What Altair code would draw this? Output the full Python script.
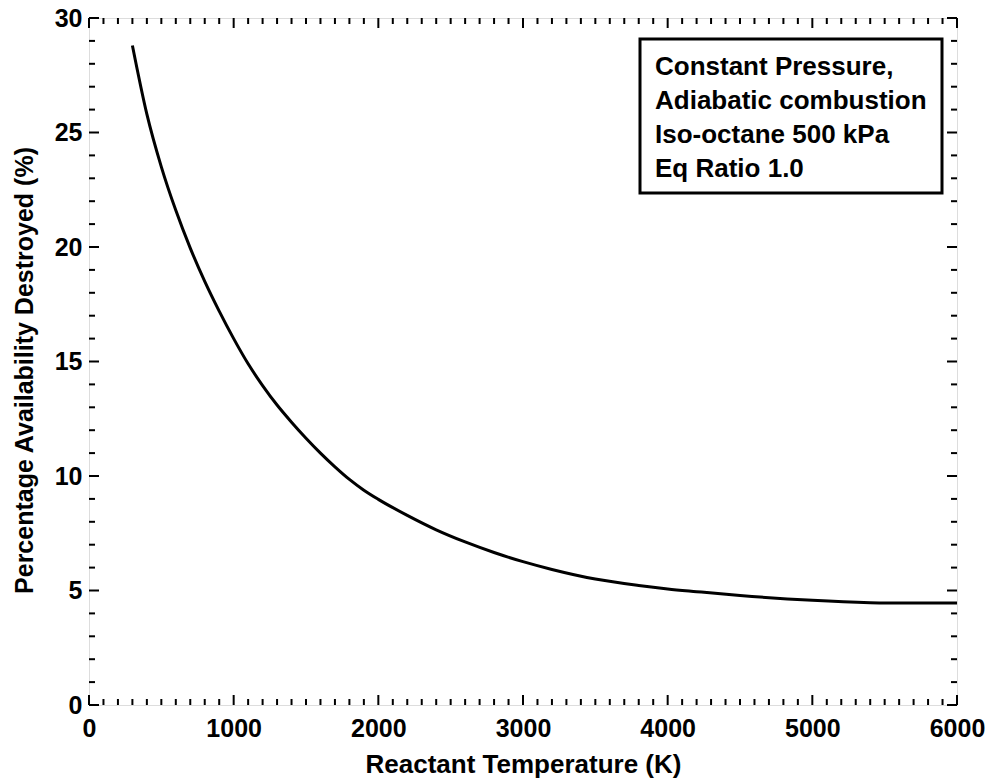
import altair as alt
import pandas as pd

# Curve
temp_k = [300, 400, 500, 600, 700, 800, 900, 1000, 1100, 1200, 1300, 1400, 1500,
          1600, 1700, 1800, 1900, 2000, 2200, 2400, 2600, 2800, 3000, 3200, 3500,
          3800, 4000, 4200, 4500, 5000, 5400, 5600, 6000]
pct_destroyed = [28.8, 25.8, 23.5, 21.6, 19.95, 18.5, 17.2, 16.0, 14.9, 13.95, 13.1,
                 12.35, 11.65, 11.0, 10.4, 9.85, 9.38, 8.98, 8.28, 7.65, 7.12, 6.66,
                 6.26, 5.92, 5.5, 5.22, 5.07, 4.95, 4.78, 4.57, 4.47, 4.45, 4.45]

x_major = [0, 1000, 2000, 3000, 4000, 5000, 6000]
x_minor = [v for v in range(0, 6001, 100) if v % 1000 != 0]
y_major = [0, 5, 10, 15, 20, 25, 30]
y_minor = [v for v in range(0, 31) if v % 5 != 0]

legend_lines = ["Constant Pressure,", "Adiabatic combustion",
                "Iso-octane 500 kPa", "Eq Ratio 1.0"]

FONT = "Liberation Sans"
W, H = 868, 687

curve = pd.DataFrame({"T": temp_k, "P": pct_destroyed})

xs = alt.Scale(domain=[0, 6000], nice=False, zero=False)
ys = alt.Scale(domain=[0, 30], nice=False, zero=False)

line = alt.Chart(curve).mark_line(color="black", strokeWidth=3, interpolate="monotone").encode(
    x=alt.X("T:Q", scale=xs,
            axis=alt.Axis(values=x_major, format="d", title="Reactant Temperature (K)",
                          grid=False, ticks=False, tickSize=0, domain=False, labelFont=FONT,
                          labelFontSize=25, labelFontWeight="bold", labelColor="black",
                          labelBaseline="alphabetic", labelPadding=31, labelFlush=False,
                          titleFont=FONT, titleFontSize=26, titleFontWeight="bold",
                          titleColor="black", titleBaseline="alphabetic", titleY=67,
                          titleX=W / 2, titleAlign="center")),
    y=alt.Y("P:Q", scale=ys,
            axis=alt.Axis(values=y_major, format="d",
                          title="Percentage Availability Destroyed (%)",
                          grid=False, ticks=False, tickSize=0, domain=False, labelFont=FONT,
                          labelFontSize=25, labelFontWeight="bold", labelColor="black",
                          labelPadding=7, labelFlush=False, labelBaseline="middle",
                          titleFont=FONT, titleFontSize=25, titleFontWeight="bold",
                          titleColor="black", titleAngle=270, titleBaseline="middle",
                          titleAlign="center", titleX=-65, titleY=352)),
)

def tick_layer(values, length, side):
    df = pd.DataFrame({"v": values})
    base = alt.Chart(df).mark_rule(color="black", strokeWidth=2)
    if side == "bottom":
        return base.encode(x=alt.X("v:Q", scale=xs), y=alt.value(H), y2=alt.value(H - length))
    if side == "top":
        return base.encode(x=alt.X("v:Q", scale=xs), y=alt.value(0), y2=alt.value(length))
    if side == "left":
        return base.encode(y=alt.Y("v:Q", scale=ys), x=alt.value(0), x2=alt.value(length))
    return base.encode(y=alt.Y("v:Q", scale=ys), x=alt.value(W), x2=alt.value(W - length))

ticks = [
    tick_layer(x_major, 10, "bottom"), tick_layer(x_minor, 6, "bottom"),
    tick_layer(x_major, 10, "top"), tick_layer(x_minor, 6, "top"),
    tick_layer(y_major, 10, "left"), tick_layer(y_minor, 6, "left"),
    tick_layer(y_major, 10, "right"), tick_layer(y_minor, 6, "right"),
]

box = alt.Chart(pd.DataFrame({"a": [0]})).mark_rect(
    fill="white", stroke="black", strokeWidth=3).encode(
    x=alt.value(551), x2=alt.value(853), y=alt.value(21), y2=alt.value(175))

legend_text = alt.Chart(pd.DataFrame({"a": [0]})).mark_text(
    text=legend_lines, font=FONT, fontSize=26, fontWeight="bold", color="black",
    align="left", baseline="alphabetic", lineHeight=34).encode(
    x=alt.value(566), y=alt.value(57))

chart = alt.layer(line, *ticks, box, legend_text).properties(
    width=W, height=H,
    autosize=alt.AutoSizeParams(type="none"),
    padding={"left": 89, "top": 18, "right": 35, "bottom": 73},
).configure_view(stroke="black", strokeWidth=3).configure(background="white")

chart.save("out.html", embed_options={"renderer": "svg", "actions": False})
